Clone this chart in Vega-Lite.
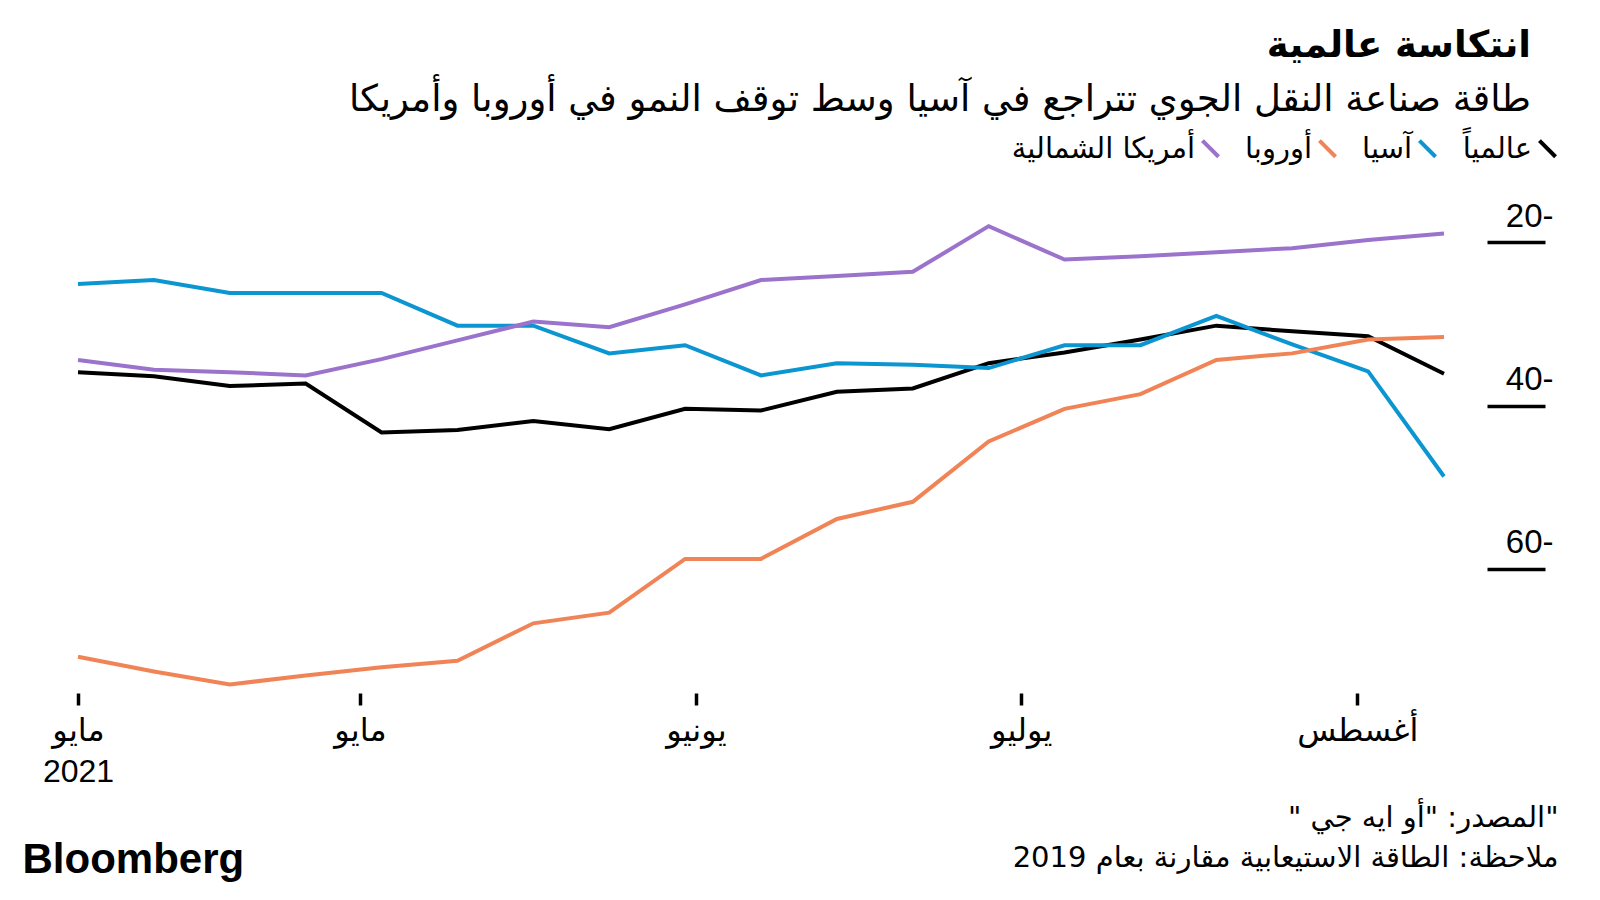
{
  "$schema": "https://vega.github.io/schema/vega-lite/v6.json",
  "autosize": "none",
  "width": 1366,
  "height": 473,
  "padding": {"left": 78, "top": 218, "right": 156, "bottom": 209},
  "background": "white",
  "config": {
    "view": {"stroke": null},
    "font": "Liberation Sans, DejaVu Sans"
  },
  "title": {
    "text": "انتكاسة عالمية",
    "subtitle": "طاقة صناعة النقل الجوي تتراجع في آسيا وسط توقف النمو في أوروبا وأمريكا",
    "anchor": "end",
    "frame": "group",
    "dx": 87,
    "offset": 15,
    "font": "DejaVu Sans",
    "subtitleFont": "DejaVu Sans",
    "fontSize": 37,
    "fontWeight": "bold",
    "subtitleFontSize": 37,
    "subtitlePadding": 17,
    "color": "#000000",
    "subtitleColor": "#000000"
  },
  "data": {
    "values": [
      {"date": "2021-04-05", "series": "عالمياً", "value": -35.9},
      {"date": "2021-04-12", "series": "عالمياً", "value": -36.4},
      {"date": "2021-04-19", "series": "عالمياً", "value": -37.6},
      {"date": "2021-04-26", "series": "عالمياً", "value": -37.3},
      {"date": "2021-05-03", "series": "عالمياً", "value": -43.3},
      {"date": "2021-05-10", "series": "عالمياً", "value": -43.0},
      {"date": "2021-05-17", "series": "عالمياً", "value": -41.9},
      {"date": "2021-05-24", "series": "عالمياً", "value": -42.9},
      {"date": "2021-05-31", "series": "عالمياً", "value": -40.4},
      {"date": "2021-06-07", "series": "عالمياً", "value": -40.6},
      {"date": "2021-06-14", "series": "عالمياً", "value": -38.3},
      {"date": "2021-06-21", "series": "عالمياً", "value": -37.9},
      {"date": "2021-06-28", "series": "عالمياً", "value": -34.8},
      {"date": "2021-07-05", "series": "عالمياً", "value": -33.5},
      {"date": "2021-07-12", "series": "عالمياً", "value": -31.9},
      {"date": "2021-07-19", "series": "عالمياً", "value": -30.2},
      {"date": "2021-07-26", "series": "عالمياً", "value": -30.9},
      {"date": "2021-08-02", "series": "عالمياً", "value": -31.5},
      {"date": "2021-08-09", "series": "عالمياً", "value": -36.1},
      {"date": "2021-04-05", "series": "آسيا", "value": -25.1},
      {"date": "2021-04-12", "series": "آسيا", "value": -24.6},
      {"date": "2021-04-19", "series": "آسيا", "value": -26.2},
      {"date": "2021-04-26", "series": "آسيا", "value": -26.2},
      {"date": "2021-05-03", "series": "آسيا", "value": -26.2},
      {"date": "2021-05-10", "series": "آسيا", "value": -30.2},
      {"date": "2021-05-17", "series": "آسيا", "value": -30.2},
      {"date": "2021-05-24", "series": "آسيا", "value": -33.6},
      {"date": "2021-05-31", "series": "آسيا", "value": -32.6},
      {"date": "2021-06-07", "series": "آسيا", "value": -36.3},
      {"date": "2021-06-14", "series": "آسيا", "value": -34.8},
      {"date": "2021-06-21", "series": "آسيا", "value": -35.0},
      {"date": "2021-06-28", "series": "آسيا", "value": -35.4},
      {"date": "2021-07-05", "series": "آسيا", "value": -32.6},
      {"date": "2021-07-12", "series": "آسيا", "value": -32.6},
      {"date": "2021-07-19", "series": "آسيا", "value": -29.0},
      {"date": "2021-07-26", "series": "آسيا", "value": -32.5},
      {"date": "2021-08-02", "series": "آسيا", "value": -35.8},
      {"date": "2021-08-09", "series": "آسيا", "value": -48.7},
      {"date": "2021-04-05", "series": "أوروبا", "value": -70.8},
      {"date": "2021-04-12", "series": "أوروبا", "value": -72.6},
      {"date": "2021-04-19", "series": "أوروبا", "value": -74.2},
      {"date": "2021-04-26", "series": "أوروبا", "value": -73.1},
      {"date": "2021-05-03", "series": "أوروبا", "value": -72.1},
      {"date": "2021-05-10", "series": "أوروبا", "value": -71.3},
      {"date": "2021-05-17", "series": "أوروبا", "value": -66.7},
      {"date": "2021-05-24", "series": "أوروبا", "value": -65.4},
      {"date": "2021-05-31", "series": "أوروبا", "value": -58.8},
      {"date": "2021-06-07", "series": "أوروبا", "value": -58.8},
      {"date": "2021-06-14", "series": "أوروبا", "value": -53.9},
      {"date": "2021-06-21", "series": "أوروبا", "value": -51.8},
      {"date": "2021-06-28", "series": "أوروبا", "value": -44.4},
      {"date": "2021-07-05", "series": "أوروبا", "value": -40.4},
      {"date": "2021-07-12", "series": "أوروبا", "value": -38.6},
      {"date": "2021-07-19", "series": "أوروبا", "value": -34.4},
      {"date": "2021-07-26", "series": "أوروبا", "value": -33.6},
      {"date": "2021-08-02", "series": "أوروبا", "value": -31.9},
      {"date": "2021-08-09", "series": "أوروبا", "value": -31.6},
      {"date": "2021-04-05", "series": "أمريكا الشمالية", "value": -34.4},
      {"date": "2021-04-12", "series": "أمريكا الشمالية", "value": -35.6},
      {"date": "2021-04-19", "series": "أمريكا الشمالية", "value": -35.9},
      {"date": "2021-04-26", "series": "أمريكا الشمالية", "value": -36.3},
      {"date": "2021-05-03", "series": "أمريكا الشمالية", "value": -34.3},
      {"date": "2021-05-10", "series": "أمريكا الشمالية", "value": -32.0},
      {"date": "2021-05-17", "series": "أمريكا الشمالية", "value": -29.7},
      {"date": "2021-05-24", "series": "أمريكا الشمالية", "value": -30.4},
      {"date": "2021-05-31", "series": "أمريكا الشمالية", "value": -27.6},
      {"date": "2021-06-07", "series": "أمريكا الشمالية", "value": -24.6},
      {"date": "2021-06-14", "series": "أمريكا الشمالية", "value": -24.1},
      {"date": "2021-06-21", "series": "أمريكا الشمالية", "value": -23.6},
      {"date": "2021-06-28", "series": "أمريكا الشمالية", "value": -18.0},
      {"date": "2021-07-05", "series": "أمريكا الشمالية", "value": -22.1},
      {"date": "2021-07-12", "series": "أمريكا الشمالية", "value": -21.7},
      {"date": "2021-07-19", "series": "أمريكا الشمالية", "value": -21.2},
      {"date": "2021-07-26", "series": "أمريكا الشمالية", "value": -20.7},
      {"date": "2021-08-02", "series": "أمريكا الشمالية", "value": -19.7},
      {"date": "2021-08-09", "series": "أمريكا الشمالية", "value": -18.9}
    ]
  },
  "mark": {"type": "line", "strokeWidth": 4},
  "encoding": {
    "x": {
      "field": "date",
      "type": "temporal",
      "scale": {
        "type": "utc",
        "domain": [
          {"year": 2021, "month": 4, "date": 5, "utc": true},
          {"year": 2021, "month": 8, "date": 9, "utc": true}
        ]
      },
      "axis": {
        "values": [
          {"year": 2021, "month": 4, "date": 5, "utc": true},
          {"year": 2021, "month": 5, "date": 1, "utc": true},
          {"year": 2021, "month": 6, "date": 1, "utc": true},
          {"year": 2021, "month": 7, "date": 1, "utc": true},
          {"year": 2021, "month": 8, "date": 1, "utc": true}
        ],
        "labelExpr": "utcmonth(datum.value) == 3 ? ['مايو', '2021'] : utcmonth(datum.value) == 4 ? 'مايو' : utcmonth(datum.value) == 5 ? 'يونيو' : utcmonth(datum.value) == 6 ? 'يوليو' : 'أغسطس'",
        "domain": false,
        "grid": false,
        "offset": 2,
        "tickSize": 12,
        "tickWidth": 3.5,
        "tickColor": "#000000",
        "labelFontSize": 32,
        "labelColor": "#000000",
        "labelPadding": 10,
        "labelBaseline": "top",
        "labelLineHeight": 41,
        "labelFlush": false,
        "labelOverlap": false,
        "title": "Bloomberg",
        "titleFont": "Liberation Sans",
        "titleFontSize": 42,
        "titleFontWeight": "bold",
        "titleColor": "#000000",
        "titleAnchor": "start",
        "titleAlign": "left",
        "titleBaseline": "alphabetic",
        "titleX": -56,
        "titleY": 179
      }
    },
    "y": {
      "field": "value",
      "type": "quantitative",
      "scale": {"domain": [-75, -17], "nice": false, "zero": false},
      "axis": {
        "orient": "right",
        "values": [-20, -40, -60],
        "labelExpr": "abs(datum.value) + '-'",
        "domain": false,
        "grid": false,
        "offset": 43,
        "tickSize": 58,
        "tickWidth": 3.5,
        "tickColor": "#000000",
        "labelAlign": "right",
        "labelBaseline": "middle",
        "labelPadding": 8,
        "labelOffset": -26,
        "labelFontSize": 33,
        "labelColor": "#000000",
        "title": ["‏\"المصدر: \"أو ايه جي \"‏", "‏ملاحظة: الطاقة الاستيعابية مقارنة بعام 2019‏"],
        "titleAngle": 0,
        "titleAlign": "right",
        "titleBaseline": "alphabetic",
        "titleFont": "DejaVu Sans",
        "titleFontSize": 29,
        "titleFontWeight": "normal",
        "titleColor": "#000000",
        "titleLineHeight": 40,
        "titleX": 71,
        "titleY": 608
      }
    },
    "color": {
      "field": "series",
      "type": "nominal",
      "scale": {
        "domain": ["أمريكا الشمالية", "أوروبا", "آسيا", "عالمياً"],
        "range": ["#9b72cc", "#f08456", "#0b95d1", "#000000"]
      },
      "legend": {
        "orient": "none",
        "direction": "horizontal",
        "legendX": 1118,
        "legendY": -84,
        "title": null,
        "symbolType": "M-1,-1L1,1",
        "symbolSize": 260,
        "symbolStrokeWidth": 4,
        "labelAlign": "right",
        "labelOffset": -30,
        "labelLimit": 400,
        "labelFont": "DejaVu Sans",
        "labelFontSize": 29,
        "labelColor": "#000000",
        "columnPadding": 18
      }
    }
  }
}
